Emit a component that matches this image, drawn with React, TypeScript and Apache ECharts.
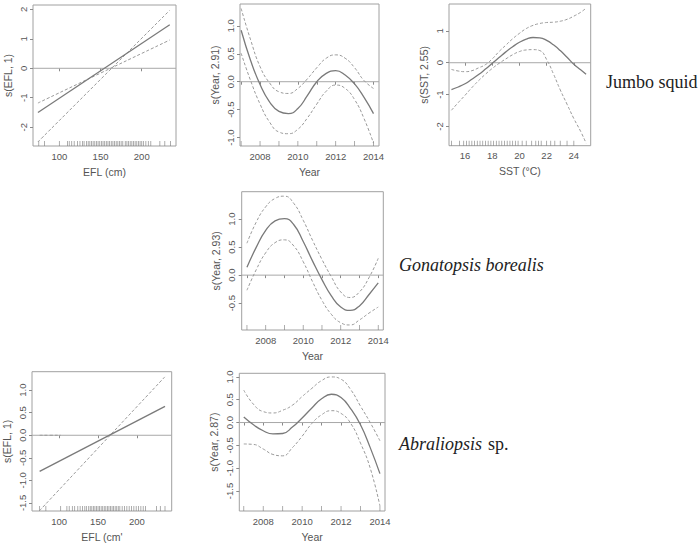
import React, { useEffect, useRef } from "react";
import * as echarts from "echarts";

// ---------- data ----------
const YEAR_X = [2007, 2007.5, 2008, 2008.5, 2009, 2009.5, 2010, 2010.5, 2011, 2011.5, 2012, 2012.5, 2013, 2013.5, 2014];
const RUG_YEARS = [2007, 2008, 2009, 2010, 2011, 2012, 2013, 2014];
const YEAR_TICKS = [2007, 2008, 2009, 2010, 2011, 2012, 2013, 2014];
const YEAR_LABELS = [2008, 2010, 2012, 2014];

// Jumbo squid – EFL (linear)
const J_EFL_X = [74, 234];
const J_EFL_FIT = [-1.5, 1.48];
const J_EFL_BAND_A = [-1.18, 0.96];
const J_EFL_BAND_B = [-2.5, 1.97];
const J_EFL_RUG = [75, 82, 100, 110, 112, 115, 118, 122, 125, 128, 130, 133, 135, 137, 139, 141, 143, 145, 147, 149, 151, 153, 155, 157, 159, 161, 163, 165, 167, 169, 171, 173, 175, 177, 180, 182, 184, 186, 188, 190, 192, 194, 196, 198, 200, 202, 205, 208, 211, 222, 228, 235];

// Jumbo squid – Year
const J_YEAR_FIT = [0.92, 0.38, -0.05, -0.36, -0.53, -0.57, -0.48, -0.25, 0.0, 0.15, 0.2, 0.12, -0.04, -0.28, -0.57];
const J_YEAR_UP = [1.31, 0.75, 0.27, -0.02, -0.18, -0.21, -0.12, 0.05, 0.25, 0.42, 0.48, 0.42, 0.25, 0.02, -0.12];
const J_YEAR_LO = [0.51, 0.02, -0.4, -0.72, -0.9, -0.93, -0.85, -0.65, -0.4, -0.17, -0.06, -0.12, -0.32, -0.66, -1.1];

// Jumbo squid – SST
const SST_X = [15, 15.5, 16, 16.5, 17, 17.5, 18, 18.5, 19, 19.5, 20, 20.5, 21, 21.5, 22, 22.5, 23, 23.5, 24, 24.5, 24.9];
const J_SST_FIT = [-0.84, -0.76, -0.66, -0.52, -0.37, -0.2, -0.02, 0.16, 0.34, 0.5, 0.64, 0.74, 0.79, 0.78, 0.7, 0.56, 0.38, 0.17, -0.05, -0.22, -0.36];
const J_SST_UP = [-0.21, -0.26, -0.28, -0.25, -0.16, -0.06, 0.12, 0.35, 0.55, 0.75, 0.92, 1.07, 1.17, 1.23, 1.26, 1.27, 1.3, 1.36, 1.46, 1.58, 1.71];
const J_SST_LO = [-1.49, -1.25, -1.02, -0.78, -0.56, -0.36, -0.18, -0.02, 0.12, 0.25, 0.35, 0.4, 0.41, 0.38, 0.1, -0.35, -0.85, -1.3, -1.75, -2.15, -2.52];
const J_SST_RUG = [15.0, 15.6, 15.9, 16.1, 16.3, 16.5, 16.7, 16.9, 17.1, 17.3, 17.5, 17.7, 17.9, 18.1, 18.3, 18.5, 18.7, 18.9, 19.1, 19.3, 19.5, 19.7, 19.9, 20.2, 20.5, 20.9, 21.2, 21.4, 21.6, 22.0, 22.3, 22.6, 23.0, 23.5, 24.0];

// Gonatopsis borealis – Year
const G_YEAR_FIT = [0.14, 0.5, 0.8, 0.97, 1.01, 0.9, 0.6, 0.25, -0.08, -0.37, -0.57, -0.63, -0.55, -0.35, -0.14];
const G_YEAR_UP = [0.57, 0.95, 1.22, 1.37, 1.41, 1.28, 0.98, 0.62, 0.28, -0.03, -0.3, -0.4, -0.3, -0.05, 0.3];
const G_YEAR_LO = [-0.27, 0.1, 0.4, 0.58, 0.63, 0.52, 0.24, -0.12, -0.45, -0.7, -0.85, -0.89, -0.8, -0.68, -0.57];

// Abraliopsis sp. – EFL (linear)
const A_EFL_X = [75, 236];
const A_EFL_FIT = [-0.8, 0.64];
const A_EFL_BAND = [-1.67, 1.3];
const A_EFL_ZERO_X = [75, 102];
const A_EFL_ZERO_Y = [0, 0];
const A_EFL_RUG = [75, 83, 102, 110, 113, 117, 120, 124, 127, 130, 133, 135, 138, 140, 142, 144, 146, 148, 150, 152, 154, 156, 158, 160, 162, 164, 166, 168, 170, 172, 174, 176, 178, 181, 184, 187, 190, 193, 196, 199, 202, 205, 208, 211, 225, 230, 236];

// Abraliopsis sp. – Year
const A_YEAR_FIT = [0.12, -0.05, -0.18, -0.25, -0.24, -0.1, 0.1, 0.32, 0.52, 0.62, 0.55, 0.3, -0.05, -0.55, -1.12];
const A_YEAR_UP = [0.71, 0.4, 0.24, 0.21, 0.27, 0.38, 0.57, 0.75, 0.92, 1.0, 0.95, 0.72, 0.36, 0.0, -0.4];
const A_YEAR_LO = [-0.47, -0.48, -0.58, -0.7, -0.73, -0.55, -0.3, -0.02, 0.17, 0.26, 0.2, -0.02, -0.45, -1.0, -1.83];

// tick labels
const EFL_TICKS = [100, 150, 200];
const SST_TICKS = [16, 18, 20, 22, 24];
const Y1_TICKS = [-2, -1, 0, 1, 2];
const Y2_TICKS = [-1.0, -0.5, 0.0, 0.5, 1.0];
const Y3_TICKS = [-2, -1, 0, 1];
const Y4_TICKS = [-0.5, 0.0, 0.5, 1.0];
const Y5_TICKS = [-1.5, -1.0, -0.5, 0.0, 0.5, 1.0];
const Y6_TICKS = [-1.5, -1.0, -0.5, 0.0, 0.5, 1.0];

const X_NAMES = ["EFL (cm)", "Year", "SST (°C)", "Year", "EFL (cm'", "Year"];
const Y_NAMES = ["s(EFL, 1)", "s(Year, 2.91)", "s(SST, 2.55)", "s(Year, 2.93)", "s(EFL, 1)", "s(Year, 2.87)"];

// ---------- layout ----------
const PANELS = [
  { left: 33, top: 5, width: 143, height: 141, xmin: 68, xmax: 241.6, ymin: -2.64, ymax: 2.15 },
  { left: 240, top: 4, width: 139, height: 142, xmin: 2006.94, xmax: 2014.29, ymin: -1.15, ymax: 1.39 },
  { left: 449, top: 4, width: 141.7, height: 141.7, xmin: 14.82, xmax: 25.24, ymin: -2.6, ymax: 1.84 },
  { left: 241.7, top: 191.7, width: 141.6, height: 138.3, xmin: 2006.72, xmax: 2014.27, ymin: -0.98, ymax: 1.49 },
  { left: 31, top: 371.7, width: 140.7, height: 142.3, xmin: 65.2, xmax: 244.6, ymin: -1.68, ymax: 1.41 },
  { left: 239.3, top: 373.3, width: 145.7, height: 141.7, xmin: 2006.77, xmax: 2014.26, ymin: -1.94, ymax: 1.08 },
];

const zip = (xs: number[], ys: number[]) => xs.map((x, i) => [x, ys[i]]);

const FONT = "'Liberation Sans Narrow', 'Liberation Sans', sans-serif";
const SERIF = "'Liberation Serif', 'DejaVu Serif', serif";
const FIT_COLOR = "#7a7a7a";
const BAND_COLOR = "#9a9a9a";

export default function App() {
  const ref = useRef<HTMLDivElement>(null);

  useEffect(() => {
    if (!ref.current) return;
    const chart = echarts.init(ref.current, undefined, { renderer: "svg" });

    const xTicks = [EFL_TICKS, YEAR_TICKS, SST_TICKS, YEAR_TICKS, EFL_TICKS, YEAR_TICKS];
    const xLabels = [EFL_TICKS, YEAR_LABELS, SST_TICKS, YEAR_LABELS, EFL_TICKS, YEAR_LABELS];
    const yTicks = [Y1_TICKS, Y2_TICKS, Y3_TICKS, Y4_TICKS, Y5_TICKS, Y6_TICKS];
    const yDecimals = [0, 1, 0, 1, 1, 1];

    const grid = PANELS.map((p) => ({
      left: p.left,
      top: p.top,
      width: p.width,
      height: p.height,
      show: true,
      borderColor: "#a0a0a0",
      borderWidth: 1,
      backgroundColor: "transparent",
      containLabel: false,
    }));

    const xAxis = PANELS.map((p, i) => ({
      type: "value",
      gridIndex: i,
      min: p.xmin,
      max: p.xmax,
      name: X_NAMES[i],
      nameLocation: "middle",
      nameGap: 20,
      nameTextStyle: { color: "#555", fontSize: 10.5, fontFamily: FONT },
      axisLine: { show: false },
      splitLine: { show: false },
      axisTick: { show: true, length: 3, inside: false, lineStyle: { color: "#8a8a8a" }, customValues: xTicks[i] },
      axisLabel: {
        show: true,
        color: "#555",
        fontSize: 9.5,
        fontFamily: FONT,
        margin: 5,
        customValues: xLabels[i],
        formatter: (v: number) => String(v),
      },
    }));

    const yAxis = PANELS.map((p, i) => ({
      type: "value",
      gridIndex: i,
      min: p.ymin,
      max: p.ymax,
      name: Y_NAMES[i],
      nameLocation: "middle",
      nameGap: 20,
      nameRotate: 90,
      nameTextStyle: { color: "#555", fontSize: 10.5, fontFamily: FONT },
      axisLine: { show: false },
      splitLine: { show: false },
      axisTick: { show: true, length: 3, inside: false, lineStyle: { color: "#8a8a8a" }, customValues: yTicks[i] },
      axisLabel: {
        show: true,
        color: "#555",
        fontSize: 9.5,
        fontFamily: FONT,
        rotate: 90,
        margin: 5,
        customValues: yTicks[i],
        formatter: (v: number) => (yDecimals[i] ? v.toFixed(1) : String(Math.round(v))),
      },
    }));

    const zero = (i: number) => ({
      type: "line",
      xAxisIndex: i,
      yAxisIndex: i,
      data: [
        [PANELS[i].xmin, 0],
        [PANELS[i].xmax, 0],
      ],
      showSymbol: false,
      silent: true,
      lineStyle: { color: "#a8a8a8", width: 1 },
      z: 1,
    });

    const fit = (i: number, data: number[][]) => ({
      type: "line",
      xAxisIndex: i,
      yAxisIndex: i,
      data,
      smooth: true,
      showSymbol: false,
      lineStyle: { color: FIT_COLOR, width: 1.3 },
      z: 3,
    });
    const band = (i: number, data: number[][]) => ({
      type: "line",
      xAxisIndex: i,
      yAxisIndex: i,
      data,
      smooth: true,
      showSymbol: false,
      lineStyle: { color: BAND_COLOR, width: 1, type: [3, 2] },
      z: 2,
    });
    const rug = (i: number, xs: number[]) => ({
      type: "scatter",
      xAxisIndex: i,
      yAxisIndex: i,
      data: xs.map((x) => [x, PANELS[i].ymin]),
      symbol: "rect",
      symbolSize: [0.8, 5],
      symbolOffset: [0, -2.5],
      itemStyle: { color: "#808080" },
      silent: true,
      z: 4,
    });

    const series = [
      zero(0),
      fit(0, zip(J_EFL_X, J_EFL_FIT)),
      band(0, zip(J_EFL_X, J_EFL_BAND_A)),
      band(0, zip(J_EFL_X, J_EFL_BAND_B)),
      rug(0, J_EFL_RUG),

      zero(1),
      fit(1, zip(YEAR_X, J_YEAR_FIT)),
      band(1, zip(YEAR_X, J_YEAR_UP)),
      band(1, zip(YEAR_X, J_YEAR_LO)),
      rug(1, RUG_YEARS),

      zero(2),
      fit(2, zip(SST_X, J_SST_FIT)),
      band(2, zip(SST_X, J_SST_UP)),
      band(2, zip(SST_X, J_SST_LO)),
      rug(2, J_SST_RUG),

      zero(3),
      fit(3, zip(YEAR_X, G_YEAR_FIT)),
      band(3, zip(YEAR_X, G_YEAR_UP)),
      band(3, zip(YEAR_X, G_YEAR_LO)),
      rug(3, RUG_YEARS),

      zero(4),
      fit(4, zip(A_EFL_X, A_EFL_FIT)),
      band(4, zip(A_EFL_X, A_EFL_BAND)),
      band(4, zip(A_EFL_ZERO_X, A_EFL_ZERO_Y)),
      rug(4, A_EFL_RUG),

      zero(5),
      fit(5, zip(YEAR_X, A_YEAR_FIT)),
      band(5, zip(YEAR_X, A_YEAR_UP)),
      band(5, zip(YEAR_X, A_YEAR_LO)),
      rug(5, RUG_YEARS),
    ];

    const speciesStyle = { fill: "#222", fontSize: 18, fontFamily: SERIF, verticalAlign: "middle", align: "left" };

    chart.setOption({
      animation: false,
      backgroundColor: "#ffffff",
      grid,
      xAxis,
      yAxis,
      series,
      graphic: [
        { type: "text", x: 606, y: 82, style: { ...speciesStyle, text: "Jumbo squid" } },
        { type: "text", x: 399, y: 265, style: { ...speciesStyle, text: "Gonatopsis borealis", fontStyle: "italic" } },
        { type: "text", x: 399, y: 444, style: { ...speciesStyle, text: "Abraliopsis", fontStyle: "italic" } },
        { type: "text", x: 488, y: 444, style: { ...speciesStyle, text: "sp." } },
      ],
    });

    return () => chart.dispose();
  }, []);

  return <div ref={ref} style={{ position: "fixed", left: 0, top: 0, width: 700, height: 543 }} />;
}
